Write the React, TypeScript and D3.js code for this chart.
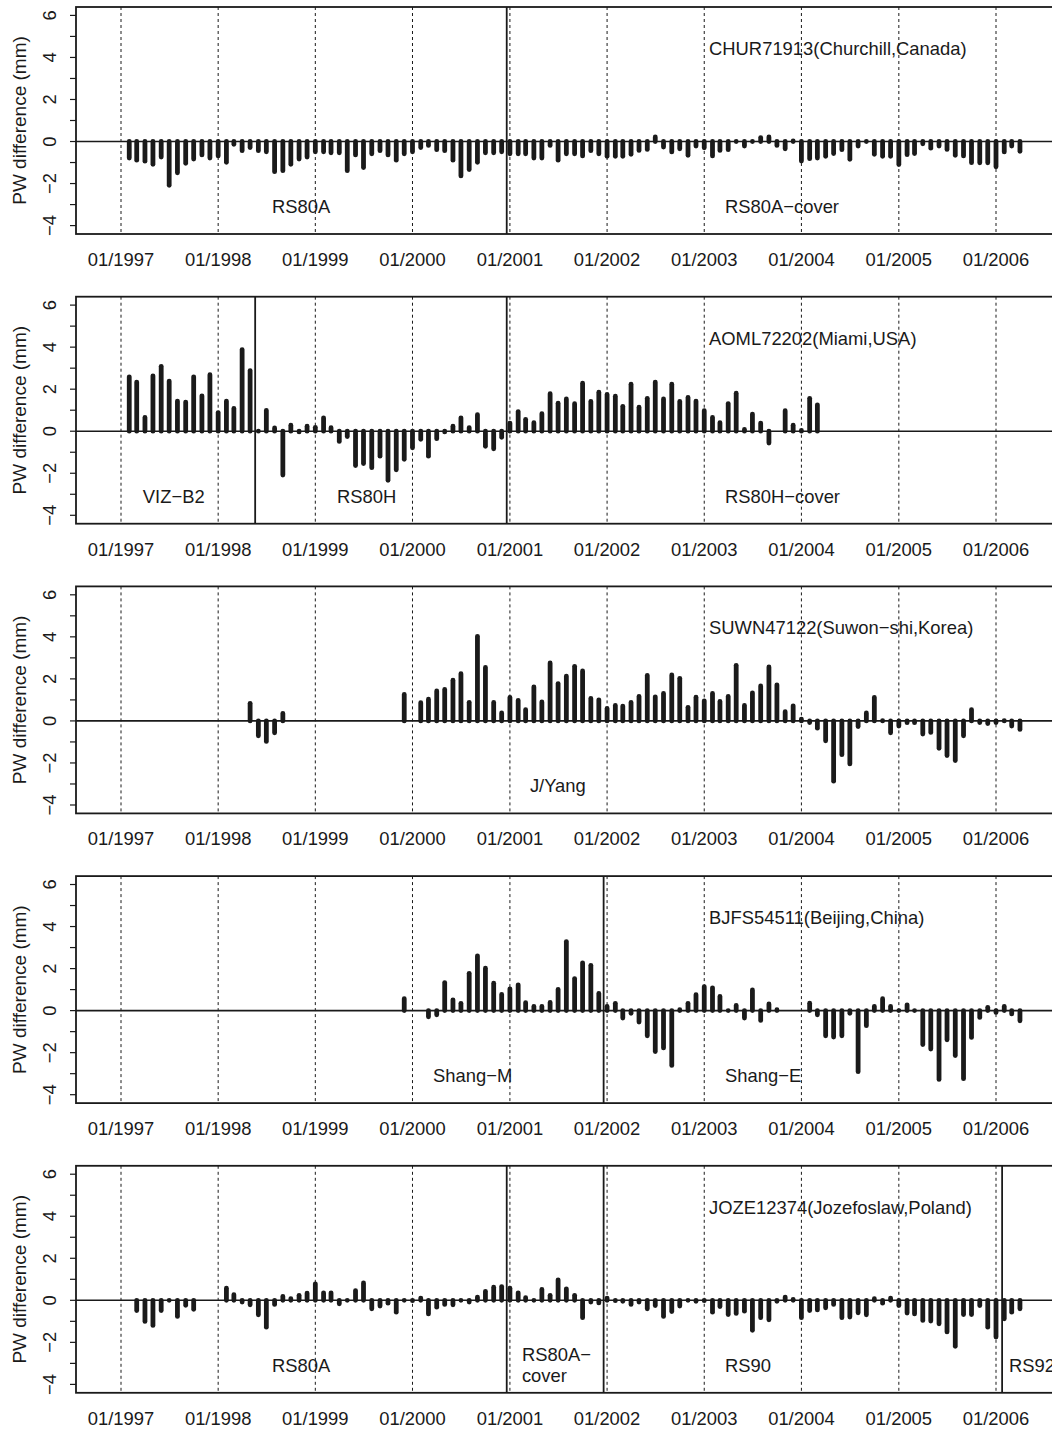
import React from "react";
import * as d3 from "d3";

// ---------------- data ----------------
const yearTicks = [1997, 1998, 1999, 2000, 2001, 2002, 2003, 2004, 2005, 2006];
const yTickValues = [-4, -3, -2, -1, 0, 1, 2, 3, 4, 5, 6];
const yTickLabels = ["−4", "", "−2", "", "0", "", "2", "", "4", "", "6"];

// CHUR71913 monthly PW differences, from 1997-02
const churStart = "1997-02";
const churValues = [
  -0.9, -1.0, -1.05, -1.2, -0.85, -2.2, -1.6, -1.15, -0.95, -0.75, -0.9,
  -0.8, -1.1, -0.25, -0.55, -0.4, -0.55, -0.6, -1.55, -1.5, -1.2, -0.95, -0.85,
  -0.6, -0.6, -0.65, -0.65, -1.5, -0.75, -1.35, -0.7, -0.55, -0.75, -1.0, -0.7,
  -0.6, -0.4, -0.3, -0.5, -0.55, -1.0, -1.75, -1.45, -1.1, -0.65, -0.65, -0.6,
  -0.7, -0.7, -0.7, -0.9, -0.9, -0.3, -1.0, -0.7, -0.7, -0.8, -0.55, -0.7,
  -0.82, -0.82, -0.82, -0.72, -0.54, -0.49, 0.33, -0.38, -0.61, -0.46, -0.77, -0.33,
  -0.41, -0.8, -0.54, -0.5, -0.06, -0.33, 0.05, 0.3, 0.33, -0.3, -0.46, 0.14,
  -1.04, -0.93, -0.9, -0.82, -0.69, -0.5, -0.96, -0.33, 0.1, -0.72, -0.82, -0.82,
  -1.21, -0.74, -0.69, -0.22, -0.43, -0.33, -0.49, -0.77, -0.8, -1.12, -1.13, -1.13,
  -1.32, -0.61, -0.33, -0.58,
];

// AOML72202, from 1997-02
const aomlStart = "1997-02";
const aomlValues = [
  2.7, 2.45, 0.77, 2.75, 3.2, 2.5, 1.55, 1.5, 2.7, 1.8, 2.8,
  1.0, 1.55, 1.2, 4.0, 3.0, 0.1, 1.1, 0.27, -2.2, 0.4, -0.15, 0.35,
  0.3, 0.75, 0.28, -0.6, -0.37, -1.75, -1.65, -1.85, -1.3, -2.45, -1.95, -1.45,
  -0.9, -0.5, -1.3, -0.47, -0.15, 0.35, 0.75, 0.28, 0.9, -0.83, -0.95, -0.4,
  0.5, 1.05, 0.68, 0.52, 0.95, 1.9, 1.45, 1.65, 1.42, 2.4, 1.53, 1.97,
  1.86, 1.78, 1.3, 2.35, 1.26, 1.68, 2.45, 1.65, 2.35, 1.53, 1.72, 1.55,
  1.09, 0.77, 0.52, 1.43, 1.92, 0.2, 0.93, 0.5, -0.68, null, 1.09, 0.4,
  0.15, 1.68, 1.37,
];

// SUWN47122, from 1998-05
const suwnStart = "1998-05";
const suwnValues = [
  0.95, -0.82, -1.09, -0.68, 0.47, null, null, null,
  null, null, null, null, null, null, null, null, null, null, null, 1.37,
  null, 0.98, 1.15, 1.54, 1.61, 2.05, 2.36, 1.0, 4.14, 2.66, 0.99, 0.49,
  1.23, 1.09, 0.65, 1.73, 1.02, 2.87, 1.89, 2.25, 2.71, 2.49, 1.18, 1.12,
  0.71, 0.85, 0.82, 0.99, 1.28, 2.28, 1.26, 1.42, 2.3, 2.14, 0.76, 1.24,
  1.07, 1.42, 1.04, 1.28, 2.76, 0.85, 1.45, 1.78, 2.68, 1.83, 0.55, 0.83,
  0.2, -0.19, -0.46, -1.06, -2.98, -1.72, -2.16, -0.38, 0.49, 1.23, 0.13, -0.68,
  -0.36, -0.2, -0.2, -0.74, -0.66, -1.42, -1.76, -2.0, -0.82, 0.65, -0.19, -0.24,
  -0.19, 0.13, -0.36, -0.52,
];

// BJFS54511, from 1999-12
const bjfsStart = "1999-12";
const bjfsValues = [
  0.68,
  null, null, -0.41, -0.31, 1.45, 0.63, 0.46, 1.89, 2.72, 2.13, 1.42, 0.88,
  1.15, 1.34, 0.49, 0.31, 0.31, 0.5, 1.12, 3.4, 1.64, 2.39, 2.27, 0.93,
  0.31, 0.46, -0.47, -0.24, -0.66, -1.31, -2.06, -1.89, -2.72, 0.16, 0.46, 0.87,
  1.25, 1.2, 0.79, 0.08, 0.36, -0.47, 1.1, -0.58, 0.43, 0.16, null, null,
  null, 0.47, -0.31, -1.31, -1.37, -1.31, -0.24, -3.02, -0.83, 0.31, 0.68, 0.31,
  0.08, 0.39, -0.08, -1.73, -1.94, -3.39, -1.5, -2.25, -3.35, -1.39, -0.44, 0.27,
  -0.2, 0.31, -0.27, -0.6,
];

// JOZE12374, from 1997-03
const jozeStart = "1997-03";
const jozeValues = [
  -0.6, -1.12, -1.31, -0.6, 0.1, -0.88, -0.35, -0.54, null, null,
  null, 0.69, 0.38, -0.2, -0.33, -0.8, -1.39, -0.31, 0.3, 0.19, 0.35, 0.46,
  0.9, 0.47, 0.47, -0.28, 0.06, 0.58, 0.94, -0.52, -0.39, -0.25, -0.68, -0.1,
  -0.13, 0.22, -0.76, -0.44, -0.31, -0.33, -0.08, -0.2, 0.27, 0.54, 0.74, 0.77,
  0.69, 0.47, 0.24, 0.11, 0.63, 0.35, 1.09, 0.66, 0.35, -0.94, -0.2, -0.24,
  0.22, -0.13, -0.16, -0.31, -0.2, -0.52, -0.36, -0.88, -0.65, -0.39, 0.03, -0.16,
  -0.13, -0.68, -0.41, -0.79, -0.74, -0.63, -1.54, -0.94, -1.04, -0.16, 0.27, 0.16,
  -0.94, -0.6, -0.57, -0.47, -0.31, -0.94, -0.91, -0.71, -0.8, 0.19, -0.25, 0.22,
  -0.36, -0.72, -0.76, -1.07, -1.1, -1.23, -1.62, -2.3, -0.79, -0.79, -0.36, -1.39,
  -1.86, -0.99, -0.68, -0.52,
];

// radiosonde type change dates
const churSwitches = ["2000-12-20"];
const aomlSwitches = ["1998-05-20", "2000-12-20"];
const suwnSwitches: string[] = [];
const bjfsSwitches = ["2001-12-19"];
const jozeSwitches = ["2000-12-20", "2001-12-19", "2006-01-24"];

// annotations: text and date of left edge; lines stacked
const churLabels = [
  { lines: ["RS80A"], at: "1998-07-22" },
  { lines: ["RS80A−cover"], at: "2003-03-20" },
];
const aomlLabels = [
  { lines: ["VIZ−B2"], at: "1997-03-24" },
  { lines: ["RS80H"], at: "1999-03-23" },
  { lines: ["RS80H−cover"], at: "2003-03-20" },
];
const suwnLabels = [{ lines: ["J/Yang"], at: "2001-03-17" }];
const bjfsLabels = [
  { lines: ["Shang−M"], at: "2000-03-18" },
  { lines: ["Shang−E"], at: "2003-03-20" },
];
const jozeLabels = [
  { lines: ["RS80A"], at: "1998-07-22" },
  { lines: ["RS80A−", "cover"], at: "2001-02-15" },
  { lines: ["RS90"], at: "2003-03-20" },
  { lines: ["RS92"], at: "2006-02-19" },
];

const panels = [
  { station: "CHUR71913(Churchill,Canada)", start: churStart, values: churValues, switches: churSwitches, labels: churLabels },
  { station: "AOML72202(Miami,USA)", start: aomlStart, values: aomlValues, switches: aomlSwitches, labels: aomlLabels },
  { station: "SUWN47122(Suwon−shi,Korea)", start: suwnStart, values: suwnValues, switches: suwnSwitches, labels: suwnLabels },
  { station: "BJFS54511(Beijing,China)", start: bjfsStart, values: bjfsValues, switches: bjfsSwitches, labels: bjfsLabels },
  { station: "JOZE12374(Jozefoslaw,Poland)", start: jozeStart, values: jozeValues, switches: jozeSwitches, labels: jozeLabels },
];

// ---------------- layout ----------------
const W = 1052;
const H = 1429;
const BOX_LEFT = 76;
const BOX_RIGHT = 1080;
const FIRST_TOP = 7;
const PANEL_STEP = 289.7;
const BOX_H = 227;
const FONT = "'Liberation Sans', Arial, Helvetica, sans-serif";
const FS = 18.4;
const INK = "#1a1a1a";
const BAR_W = 4.8;
const CAP = BAR_W / 2;

const parseMonth = d3.timeParse("%Y-%m");
const parseDay = d3.timeParse("%Y-%m-%d");

const x = d3
  .scaleTime()
  .domain([new Date(1997, 0, 1), new Date(2006, 0, 1)])
  .range([121, 996]);

function Panel({ p, idx }: { p: (typeof panels)[number]; idx: number }) {
  const top = FIRST_TOP + idx * PANEL_STEP;
  const bottom = top + BOX_H;
  const y = d3.scaleLinear().domain([-4.4, 6.4]).range([bottom, top]);
  const y0 = y(0);
  const startDate = parseMonth(p.start) as Date;
  const bars = p.values
    .map((v, i) => ({ v, d: d3.timeMonth.offset(startDate, i) }))
    .filter((b) => b.v !== null) as { v: number; d: Date }[];

  return (
    <g>
      {yearTicks.map((yr) => {
        const xx = x(new Date(yr, 0, 1));
        return (
          <line key={"g" + yr} x1={xx} x2={xx} y1={top} y2={bottom} stroke={INK} strokeWidth={1} strokeDasharray="3,3" />
        );
      })}
      {p.switches.map((s) => {
        const xx = x(parseDay(s) as Date);
        return <line key={"s" + s} x1={xx} x2={xx} y1={top} y2={bottom} stroke={INK} strokeWidth={1.8} />;
      })}
      <line x1={BOX_LEFT} x2={BOX_RIGHT} y1={y0} y2={y0} stroke={INK} strokeWidth={1.6} />
      {bars.map((b, i) => {
        const xx = x(b.d);
        const yv = y(b.v);
        const len = Math.max(0, Math.abs(yv - y0) - CAP);
        const yEnd = b.v >= 0 ? y0 - len : y0 + len;
        return (
          <line key={"b" + i} x1={xx} x2={xx} y1={y0} y2={yEnd} stroke={INK} strokeWidth={BAR_W} strokeLinecap="round" />
        );
      })}
      <rect x={BOX_LEFT} y={top} width={BOX_RIGHT - BOX_LEFT} height={BOX_H} fill="none" stroke={INK} strokeWidth={1.8} />
      {yTickValues.map((t, i) => (
        <g key={"yt" + t}>
          <line x1={BOX_LEFT - 6} x2={BOX_LEFT} y1={y(t)} y2={y(t)} stroke={INK} strokeWidth={1.2} />
          {yTickLabels[i] !== "" && (
            <text
              transform={`translate(${55.5},${y(t)}) rotate(-90)`}
              textAnchor="middle"
              fontFamily={FONT}
              fontSize={FS}
              fill={INK}
            >
              {yTickLabels[i]}
            </text>
          )}
        </g>
      ))}
      <text
        transform={`translate(${25.5},${(top + bottom) / 2}) rotate(-90)`}
        textAnchor="middle"
        fontFamily={FONT}
        fontSize={FS + 0.6}
        fill={INK}
      >
        PW difference (mm)
      </text>
      {yearTicks.map((yr) => (
        <text
          key={"xl" + yr}
          x={x(new Date(yr, 0, 1))}
          y={bottom + 32}
          textAnchor="middle"
          fontFamily={FONT}
          fontSize={FS}
          fill={INK}
        >
          {"01/" + yr}
        </text>
      ))}
      <text x={x(parseDay("2003-01-19") as Date)} y={top + 48} fontFamily={FONT} fontSize={FS} fill={INK}>
        {p.station}
      </text>
      {p.labels.map((l, i) => {
        const xx = x(parseDay(l.at) as Date);
        if (l.lines.length === 1) {
          return (
            <text key={"l" + i} x={xx} y={top + 206} fontFamily={FONT} fontSize={FS} fill={INK}>
              {l.lines[0]}
            </text>
          );
        }
        return (
          <text key={"l" + i} x={xx} y={top + 195} fontFamily={FONT} fontSize={FS} fill={INK}>
            {l.lines.map((ln, j) => (
              <tspan key={j} x={xx} dy={j === 0 ? 0 : 21}>
                {ln}
              </tspan>
            ))}
          </text>
        );
      })}
    </g>
  );
}

export default function App() {
  return (
    <svg
      width={W}
      height={H}
      viewBox={`0 0 ${W} ${H}`}
      style={{ position: "absolute", left: 0, top: 0, display: "block", background: "#ffffff" }}
    >
      <rect x={0} y={0} width={W} height={H} fill="#ffffff" />
      {panels.map((p, i) => (
        <Panel key={p.station} p={p} idx={i} />
      ))}
    </svg>
  );
}
